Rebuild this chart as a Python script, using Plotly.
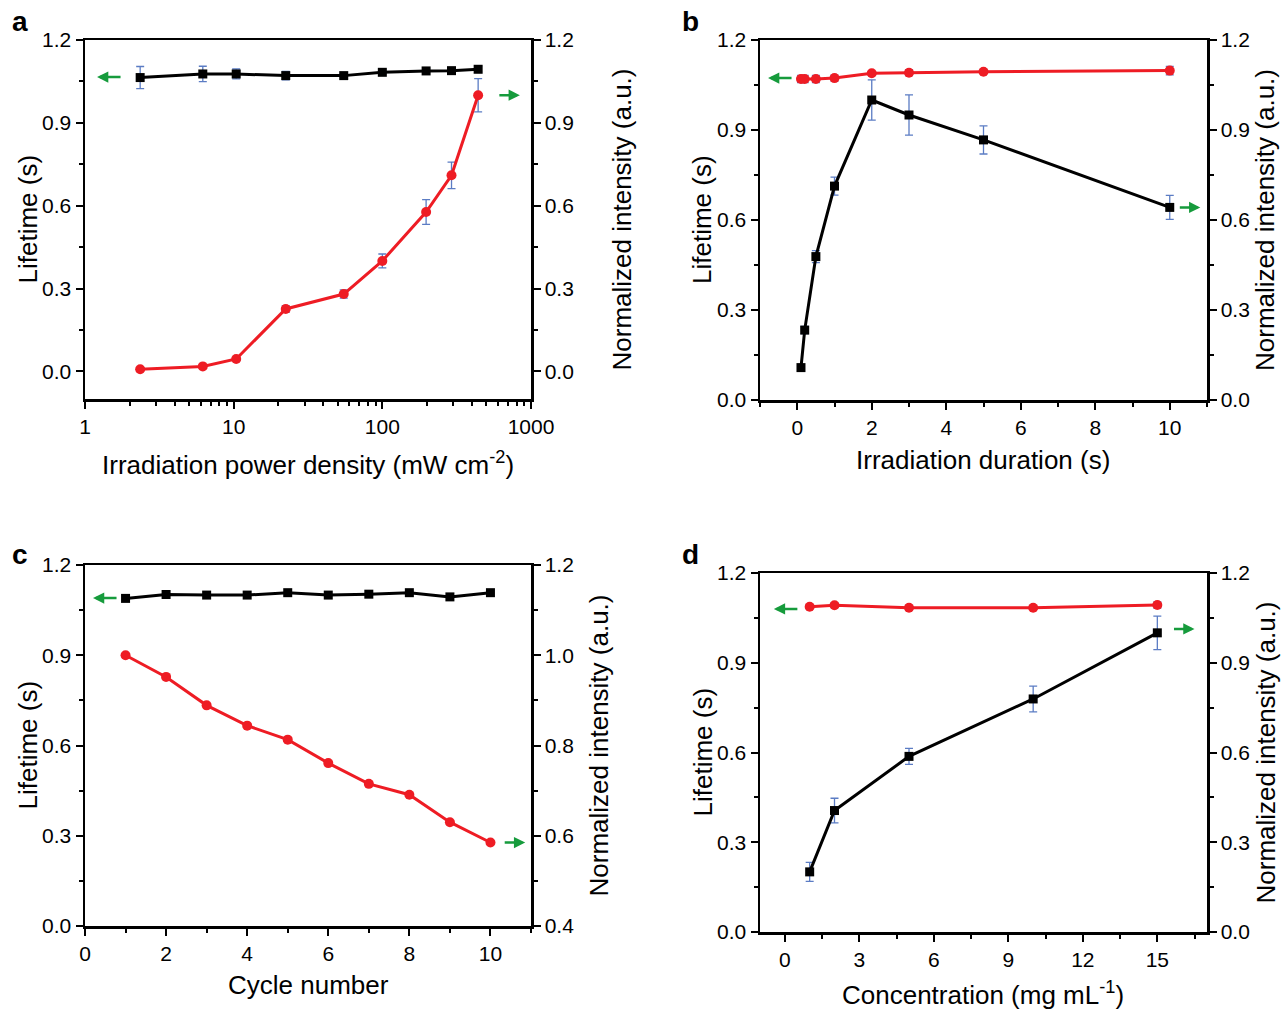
import plotly.graph_objects as go

W, H = 1284, 1011
FONT = "Arial, Liberation Sans, Helvetica, sans-serif"
RED = "#ee1c24"
BLACK = "#000000"
ERRC = "#5b7cc4"
GREEN = "#169b3c"

# ---------------- data ----------------
# Panel a: irradiation power density (mW cm-2)
a_x = [2.35, 6.2, 10.4, 22.4, 55, 100, 197, 292, 441]
a_life = [1.064, 1.077, 1.077, 1.071, 1.071, 1.083, 1.088, 1.089, 1.094]
a_life_err = [0.040, 0.028, 0.018, 0.015, 0.008, 0.008, 0.008, 0.007, 0.010]
a_int = [0.008, 0.018, 0.045, 0.226, 0.280, 0.400, 0.577, 0.710, 1.000]
a_int_err = [0.005, 0.005, 0.006, 0.012, 0.015, 0.025, 0.045, 0.048, 0.060]

# Panel b: irradiation duration (s)
b_x = [0.1, 0.2, 0.5, 1, 2, 3, 5, 10]
b_life = [1.070, 1.070, 1.070, 1.073, 1.089, 1.091, 1.094, 1.098]
b_life_err = [0.012, 0.012, 0.012, 0.010, 0.006, 0.010, 0.006, 0.014]
b_int = [0.108, 0.233, 0.478, 0.713, 1.000, 0.950, 0.867, 0.642]
b_int_err = [0.005, 0.012, 0.020, 0.030, 0.067, 0.067, 0.047, 0.040]

# Panel c: cycle number
c_x = [1, 2, 3, 4, 5, 6, 7, 8, 9, 10]
c_life = [1.089, 1.102, 1.100, 1.100, 1.108, 1.100, 1.103, 1.108, 1.094, 1.108]
c_int = [1.000, 0.952, 0.889, 0.844, 0.813, 0.761, 0.715, 0.691, 0.630, 0.585]

# Panel d: concentration (mg mL-1)
d_x = [1, 2, 5, 10, 15]
d_life = [1.087, 1.092, 1.084, 1.084, 1.093]
d_life_err = [0.006, 0.008, 0.008, 0.005, 0.010]
d_int = [0.201, 0.406, 0.587, 0.779, 1.000]
d_int_err = [0.032, 0.041, 0.027, 0.043, 0.056]

# ---------------- tick labels ----------------
y_ticks = [0.0, 0.3, 0.6, 0.9, 1.2]
y_ticktext = ["0.0", "0.3", "0.6", "0.9", "1.2"]
y_minor = [0.15, 0.45, 0.75, 1.05]
yc_ticks = [0.4, 0.6, 0.8, 1.0, 1.2]
yc_ticktext = ["0.4", "0.6", "0.8", "1.0", "1.2"]
yc_minor = [0.5, 0.7, 0.9, 1.1]
a_xticks = [1, 10, 100, 1000]
a_xticktext = ["1", "10", "100", "1000"]
b_xticks = [0, 2, 4, 6, 8, 10]
b_xminor = [-1, 1, 3, 5, 7, 9, 11]
c_xticks = [0, 2, 4, 6, 8, 10]
c_xminor = [1, 3, 5, 7, 9, 11]
d_xticks = [0, 3, 6, 9, 12, 15]
d_xminor = [-1.5, 1.5, 4.5, 7.5, 10.5, 13.5, 16.5]

titles = {
    "a": ("Irradiation power density (mW cm<sup>-2</sup>)", "Lifetime (s)", "Normalized intensity (a.u.)"),
    "b": ("Irradiation duration (s)", "Lifetime (s)", "Normalized intensity (a.u.)"),
    "c": ("Cycle number", "Lifetime (s)", "Normalized intensity (a.u.)"),
    "d": ("Concentration (mg mL<sup>-1</sup>)", "Lifetime (s)", "Normalized intensity (a.u.)"),
}

# ---------------- layout helpers ----------------
def px(x):
    return x / W

def py(y):
    return 1 - y / H

# panel boxes in pixel coords: left, right, top, bottom
boxes = {
    "a": (85, 531, 40, 399),
    "b": (760, 1207, 40, 400),
    "c": (85, 531, 565, 926),
    "d": (760, 1207, 573, 932),
}

tickfont = dict(family=FONT, size=21, color="black")
base = dict(showline=True, linecolor="black", linewidth=2.5, ticks="outside",
            ticklen=7, tickwidth=2, tickcolor="black", showgrid=False,
            zeroline=False, tickfont=tickfont, fixedrange=True, automargin=False)

def minor(vals):
    return dict(tickmode="array", tickvals=vals, ticks="outside", ticklen=4,
                tickwidth=2, tickcolor="black", showgrid=False)

fig = go.Figure()

def line_trace(x, y, err, color, symbol, xa, ya, size):
    t = go.Scatter(x=x, y=y, mode="lines+markers", xaxis=xa, yaxis=ya,
                   line=dict(color=color, width=3),
                   marker=dict(symbol=symbol, size=size, color=color),
                   showlegend=False, hoverinfo="skip")
    if err is not None:
        t.error_y = dict(type="data", array=err, color=ERRC, thickness=1.3, width=4)
    return t

# Panel a: black lifetime (left), red intensity (right)
fig.add_trace(line_trace(a_x, a_life, a_life_err, BLACK, "square", "x", "y", 9))
fig.add_trace(line_trace(a_x, a_int, a_int_err, RED, "circle", "x", "y2", 10))
# Panel b: red lifetime (left), black intensity (right)
fig.add_trace(line_trace(b_x, b_life, b_life_err, RED, "circle", "x2", "y3", 10))
fig.add_trace(line_trace(b_x, b_int, b_int_err, BLACK, "square", "x2", "y4", 9))
# Panel c: black lifetime (left), red intensity (right)
fig.add_trace(line_trace(c_x, c_life, None, BLACK, "square", "x3", "y5", 9))
fig.add_trace(line_trace(c_x, c_int, None, RED, "circle", "x3", "y6", 10))
# Panel d: red lifetime (left), black intensity (right)
fig.add_trace(line_trace(d_x, d_life, d_life_err, RED, "circle", "x4", "y7", 10))
fig.add_trace(line_trace(d_x, d_int, d_int_err, BLACK, "square", "x4", "y8", 9))

layout = dict(width=W, height=H, autosize=False,
              margin=dict(l=0, r=0, t=0, b=0, pad=0, autoexpand=False),
              paper_bgcolor="white", plot_bgcolor="white", showlegend=False)

panel_axes = {"a": ("", "", "2"), "b": ("2", "3", "4"), "c": ("3", "5", "6"), "d": ("4", "7", "8")}
xcfg = {
    "a": dict(type="log", range=[0, 3], tickmode="array", tickvals=a_xticks, ticktext=a_xticktext,
              minor=minor([m * 10 ** k for k in range(3) for m in range(2, 10)])),
    "b": dict(range=[-1, 11], tickmode="array", tickvals=b_xticks, minor=minor(b_xminor)),
    "c": dict(range=[0, 11], tickmode="array", tickvals=c_xticks, minor=minor(c_xminor)),
    "d": dict(range=[-1, 17], tickmode="array", tickvals=d_xticks, minor=minor(d_xminor)),
}
ylcfg = {
    "a": dict(range=[-0.1, 1.2]),
    "b": dict(range=[0, 1.2]),
    "c": dict(range=[0, 1.2]),
    "d": dict(range=[0, 1.2]),
}
yrcfg = {
    "a": dict(range=[-0.1, 1.2], tickvals=y_ticks, ticktext=y_ticktext, minor=minor(y_minor)),
    "b": dict(range=[0, 1.2], tickvals=y_ticks, ticktext=y_ticktext, minor=minor(y_minor)),
    "c": dict(range=[0.4, 1.2], tickvals=yc_ticks, ticktext=yc_ticktext, minor=minor(yc_minor)),
    "d": dict(range=[0, 1.2], tickvals=y_ticks, ticktext=y_ticktext, minor=minor(y_minor)),
}

annotations = []
for p, (xs, yl, yr) in panel_axes.items():
    l, r, t, b = boxes[p]
    xdom = [px(l), px(r)]
    ydom = [py(b), py(t)]
    xname = "x" + xs
    ylname = "y" + ("" if yl == "" else yl)
    layout["xaxis" + xs] = dict(base, domain=xdom, anchor=ylname, mirror=True, **xcfg[p])
    layout["yaxis" + yl] = dict(base, domain=ydom, anchor=xname, mirror=False,
                               tickmode="array", tickvals=y_ticks, ticktext=y_ticktext,
                               minor=minor(y_minor), **ylcfg[p])
    layout["yaxis" + yr] = dict(base, domain=ydom, anchor=xname, overlaying=ylname,
                               side="right", tickmode="array", **yrcfg[p])

# ---------------- text annotations ----------------
title_font = dict(family=FONT, size=26, color="black")
tpos = {
    # x-title (cx, cy), left-title cx, right-title cx
    "a": ((308, 463), 27, 621),
    "b": ((983, 460), 702, 1265),
    "c": ((308, 985), 27, 598),
    "d": ((983, 993), 702, 1265),
}
letter_pos = {"a": (20, 21), "b": (690, 21), "c": (20, 554), "d": (690, 554)}
for p, ((cx, cy), lx, rx) in tpos.items():
    l, r, t, b = boxes[p]
    xt, ylt, yrt = titles[p]
    ymid = (t + b) / 2
    annotations.append(dict(text=xt, x=px(cx), y=py(cy), xref="paper", yref="paper",
                            showarrow=False, font=title_font, xanchor="center", yanchor="middle"))
    annotations.append(dict(text=ylt, x=px(lx), y=py(ymid), xref="paper", yref="paper",
                            showarrow=False, font=title_font, textangle=-90,
                            xanchor="center", yanchor="middle"))
    annotations.append(dict(text=yrt, x=px(rx), y=py(ymid), xref="paper", yref="paper",
                            showarrow=False, font=title_font, textangle=-90,
                            xanchor="center", yanchor="middle"))
    lx0, ly0 = letter_pos[p]
    annotations.append(dict(text="<b>%s</b>" % p, x=px(lx0), y=py(ly0), xref="paper", yref="paper",
                            showarrow=False, font=dict(family=FONT, size=28, color="black"),
                            xanchor="center", yanchor="middle"))

# green arrows (head position in axis-domain x, data y; tail offset in pixels)
arrows = [
    ("x domain", 0.027, "y", 1.066, 25),
    ("x domain", 0.975, "y2", 1.000, -22),
    ("x2 domain", 0.018, "y3", 1.073, 25),
    ("x2 domain", 0.985, "y4", 0.642, -22),
    ("x3 domain", 0.018, "y5", 1.090, 25),
    ("x3 domain", 0.987, "y6", 0.585, -22),
    ("x4 domain", 0.031, "y7", 1.080, 25),
    ("x4 domain", 0.972, "y8", 1.013, -22),
]
for xr, xv, yr, yv, ax in arrows:
    annotations.append(dict(text="", x=xv, y=yv, xref=xr, yref=yr, ax=ax, ay=0,
                            showarrow=True, arrowhead=2, arrowsize=0.9, arrowwidth=2.5,
                            arrowcolor=GREEN, standoff=0, startstandoff=0))

layout["annotations"] = annotations
fig.update_layout(**layout)
# remove the default page margin so the figure starts at the window's corner
fig.write_html("out.html",
               config=dict(displayModeBar=False, staticPlot=True),
               post_script="document.body.style.margin='0';document.body.style.overflow='hidden';")
